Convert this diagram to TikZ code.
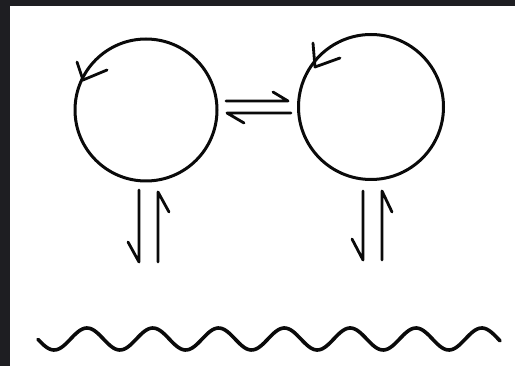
\documentclass[tikz,border=0pt]{standalone}
\definecolor{framedark}{RGB}{30,30,34}
\definecolor{ink}{RGB}{10,10,10}
\begin{document}
\begin{tikzpicture}[x=1pt,y=-1pt, line cap=round, line join=round,
  ring/.style={circle, draw=ink, line width=3pt, inner sep=0pt, minimum size=#1},
  stroke/.style={draw=ink, line width=2.8pt},
  wave/.style={draw=ink, line width=3.6pt}]
\fill[framedark] (0,0) rectangle (515,366);
\fill[white] (10,6.5) rectangle (515,366);
\useasboundingbox (0,0) rectangle (515,366);
% circles
\node[ring=142pt] (L) at (146,110) {};
\node[ring=145pt] (R) at (371,107) {};
% circulation arrowheads
\coordinate (lt) at (83,80);
\draw[stroke] (77,62) -- (lt) -- (107,70);
\coordinate (rt) at (315,67);
\draw[stroke] (313,43) -- (rt) -- (340,58);
% horizontal equilibrium harpoons
\coordinate (h1a) at (226,101);
\coordinate (h1b) at (288,101);
\draw[stroke] (h1a) -- (h1b) -- (273,92);
\coordinate (h2a) at (291,113);
\coordinate (h2b) at (227,113);
\draw[stroke] (h2a) -- (h2b) -- (244,123);
% left vertical harpoons
\coordinate (v1a) at (139,190);
\coordinate (v1b) at (139,262);
\draw[stroke] (v1a) -- (v1b) -- (128,242);
\coordinate (v2a) at (158,262);
\coordinate (v2b) at (158,192);
\draw[stroke] (v2a) -- (v2b) -- (169,212);
% right vertical harpoons
\coordinate (v3a) at (363,191);
\coordinate (v3b) at (363,260);
\draw[stroke] (v3a) -- (v3b) -- (352,239);
\coordinate (v4a) at (382,260);
\coordinate (v4b) at (382,191);
\draw[stroke] (v4a) -- (v4b) -- (392,212);
% wavy surface
\draw[wave] plot[domain=38:500, samples=240, smooth] (\x, {339-11*cos(5.4711*(\x-87))});
\end{tikzpicture}
\end{document}
